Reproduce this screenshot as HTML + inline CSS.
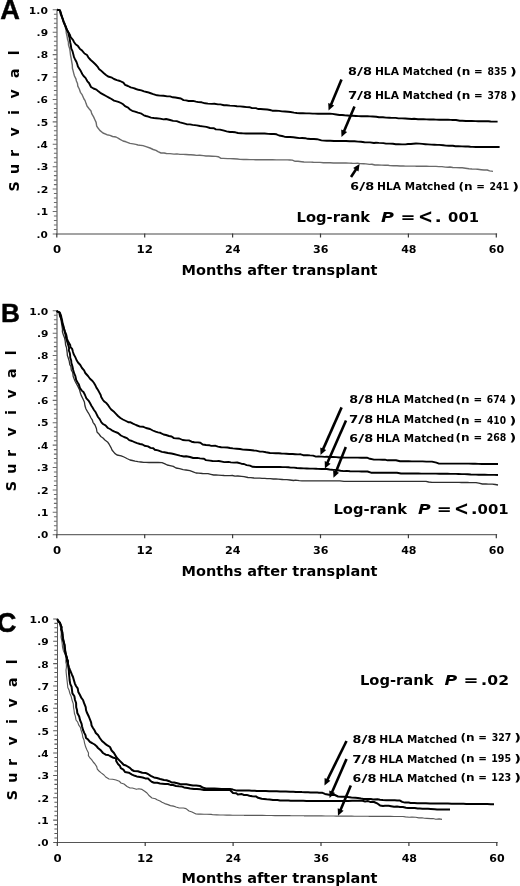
<!DOCTYPE html>
<html lang="en"><head><meta charset="utf-8"><title>Survival after transplant by HLA match</title>
<style>
html,body{margin:0;padding:0;background:#fff;}
body{width:520px;height:886px;overflow:hidden;}
svg{display:block;will-change:transform;}
</style></head><body>
<svg width="520" height="886" viewBox="0 0 520 886">
<rect width="520" height="886" fill="#fff"/>
<g>
<line x1="57.00" y1="9.3" x2="57.00" y2="234.5" stroke="#858585" stroke-width="1.5"/>
<line x1="56.4" y1="233.90" x2="497.1" y2="233.90" stroke="#858585" stroke-width="1.5"/>
<path d="M52.7 233.90H57.0M53.9 229.42H57.0M53.9 224.94H57.0M53.9 220.45H57.0M53.9 215.97H57.0M52.7 211.49H57.0M53.9 207.01H57.0M53.9 202.53H57.0M53.9 198.04H57.0M53.9 193.56H57.0M52.7 189.08H57.0M53.9 184.60H57.0M53.9 180.12H57.0M53.9 175.63H57.0M53.9 171.15H57.0M52.7 166.67H57.0M53.9 162.19H57.0M53.9 157.71H57.0M53.9 153.22H57.0M53.9 148.74H57.0M52.7 144.26H57.0M53.9 139.78H57.0M53.9 135.30H57.0M53.9 130.81H57.0M53.9 126.33H57.0M52.7 121.85H57.0M53.9 117.37H57.0M53.9 112.89H57.0M53.9 108.40H57.0M53.9 103.92H57.0M52.7 99.44H57.0M53.9 94.96H57.0M53.9 90.48H57.0M53.9 85.99H57.0M53.9 81.51H57.0M52.7 77.03H57.0M53.9 72.55H57.0M53.9 68.07H57.0M53.9 63.58H57.0M53.9 59.10H57.0M52.7 54.62H57.0M53.9 50.14H57.0M53.9 45.66H57.0M53.9 41.17H57.0M53.9 36.69H57.0M52.7 32.21H57.0M53.9 27.73H57.0M53.9 23.25H57.0M53.9 18.76H57.0M53.9 14.28H57.0M52.7 9.80H57.0" stroke="#6c6c6c" stroke-width="1.05" fill="none"/>
<path d="M56.80 233.5V237.4M144.70 233.5V237.4M232.60 233.5V237.4M320.50 233.5V237.4M408.40 233.5V237.4M496.30 233.5V237.4" stroke="#3a3a3a" stroke-width="1.2" fill="none"/>
<text font-family="'DejaVu Sans','Liberation Sans',sans-serif" font-weight="bold" font-size="9" fill="#000">
<tspan x="36.63" y="237.6" textLength="11.28" lengthAdjust="spacingAndGlyphs">.0</tspan>
<tspan x="36.60" y="215.2" textLength="11.53" lengthAdjust="spacingAndGlyphs">.1</tspan>
<tspan x="36.58" y="192.8" textLength="11.76" lengthAdjust="spacingAndGlyphs">.2</tspan>
<tspan x="36.59" y="170.4" textLength="11.69" lengthAdjust="spacingAndGlyphs">.3</tspan>
<tspan x="36.63" y="148.0" textLength="11.25" lengthAdjust="spacingAndGlyphs">.4</tspan>
<tspan x="36.60" y="125.6" textLength="11.56" lengthAdjust="spacingAndGlyphs">.5</tspan>
<tspan x="36.62" y="103.1" textLength="11.34" lengthAdjust="spacingAndGlyphs">.6</tspan>
<tspan x="36.59" y="80.7" textLength="11.69" lengthAdjust="spacingAndGlyphs">.7</tspan>
<tspan x="36.61" y="58.3" textLength="11.47" lengthAdjust="spacingAndGlyphs">.8</tspan>
<tspan x="36.61" y="35.9" textLength="11.47" lengthAdjust="spacingAndGlyphs">.9</tspan>
<tspan x="28.89" y="13.5" textLength="19.04" lengthAdjust="spacingAndGlyphs">1.0</tspan>
</text>
<text font-family="'DejaVu Sans','Liberation Sans',sans-serif" font-weight="bold" font-size="10" fill="#000">
<tspan x="53.05" y="252.8" textLength="8.12" lengthAdjust="spacingAndGlyphs">0</tspan>
<tspan x="136.62" y="252.8" textLength="16.45" lengthAdjust="spacingAndGlyphs">12</tspan>
<tspan x="224.96" y="252.8" textLength="15.51" lengthAdjust="spacingAndGlyphs">24</tspan>
<tspan x="313.00" y="252.8" textLength="15.45" lengthAdjust="spacingAndGlyphs">36</tspan>
<tspan x="401.16" y="252.8" textLength="15.30" lengthAdjust="spacingAndGlyphs">48</tspan>
<tspan x="488.86" y="252.8" textLength="15.33" lengthAdjust="spacingAndGlyphs">60</tspan>
</text>
<text font-family="'DejaVu Sans','Liberation Sans',sans-serif" font-weight="bold" font-size="14.4" y="274.7"><tspan x="181.56" textLength="195.99" lengthAdjust="spacingAndGlyphs">Months after transplant</tspan></text>
<text transform="rotate(-90)" x="-191.4 -173.9 -157.1 -136.5 -115.1 -98.6 -78.0 -55.3" y="18.5" font-family="'DejaVu Sans','Liberation Sans',sans-serif" font-weight="bold" font-size="14.2">Survival</text>
<text x="0.3" y="18.7" font-family="'Liberation Sans','DejaVu Sans',sans-serif" font-weight="bold" font-size="27.2" stroke="#000" stroke-width="0.45">A</text>
<polyline points="57.2,9.8 60.0,10.4 60.9,13.0 62.0,17.0 62.9,19.6 63.5,22.8 65.0,26.0 66.0,30.0 66.3,33.1 67.0,36.0 67.6,39.6 68.4,41.9 68.5,45.0 69.7,48.7 70.1,51.4 70.5,55.0 71.2,58.7 71.7,61.7 72.3,65.0 72.4,68.3 73.0,70.4 73.8,73.6 74.5,76.0 76.0,79.1 76.4,81.0 77.5,83.5 77.8,86.2 79.3,89.0 80.4,92.3 81.9,94.3 82.8,96.2 84.0,99.0 85.1,100.6 86.1,103.6 87.0,106.0 89.1,108.7 91.0,111.0 91.7,113.6 93.6,116.9 95.0,120.0 96.1,122.4 96.7,126.1 98.0,128.0 99.8,130.4 103.0,133.0 106.9,134.7 110.0,135.4 112.6,136.5 116.0,137.0 118.5,138.3 120.1,139.4 123.0,141.0 126.0,141.8 130.0,143.4 133.2,143.9 135.8,144.4 138.0,145.0 140.2,145.3 143.0,145.6 146.0,146.6 150.0,148.0 153.2,149.5 156.0,150.4 158.0,151.7 161.0,153.0 164.1,153.0 166.4,153.5 170.0,153.6 174.0,154.1 176.9,153.9 180.0,154.4 183.1,154.4 186.0,154.5 189.1,154.8 190.8,154.7 194.0,155.0 196.6,155.4 199.7,155.2 203.4,155.6 206.0,156.0 208.8,156.0 212.1,156.2 216.0,156.4 218.2,156.7 221.0,158.4 223.4,158.4 227.6,158.6 230.0,158.6 233.4,158.7 237.4,159.0 240.0,159.4 243.4,159.5 246.5,159.5 250.0,159.6 253.4,159.6 255.5,159.7 258.3,159.6 260.8,159.7 264.3,159.7 267.6,159.8 270.0,159.8 272.4,159.8 276.3,159.9 278.6,159.9 282.1,159.9 284.8,159.9 287.4,159.9 290.0,160.0 292.3,160.1 295.2,161.3 298.0,161.2 301.7,161.7 304.0,162.0 307.8,162.1 310.8,162.1 313.3,162.3 316.6,162.4 320.0,162.4 323.4,162.7 326.5,162.8 330.1,162.8 333.5,163.0 336.0,163.0 339.2,163.0 343.0,163.0 346.0,163.0 349.1,163.1 352.2,163.3 355.0,163.4 357.6,163.3 360.0,163.6 363.7,163.7 365.9,163.9 369.5,164.4 371.9,164.3 374.9,165.0 378.0,165.0 381.7,165.1 385.0,165.2 388.1,165.3 389.8,165.6 393.4,165.7 396.9,165.7 400.0,166.0 403.4,166.0 405.4,166.1 408.7,166.1 411.1,166.1 414.7,166.1 416.7,166.2 420.0,166.2 423.7,166.3 426.5,166.3 429.5,166.4 433.5,166.4 436.0,166.4 438.9,166.6 442.0,166.6 445.3,167.1 448.0,167.3 449.9,167.0 452.8,167.5 456.0,167.6 459.9,167.8 462.2,167.8 465.4,168.2 469.0,168.8 472.0,169.0 475.6,169.1 477.7,169.3 481.2,169.7 484.0,170.0 487.2,170.0 489.6,170.9 493.0,171.4" fill="none" stroke="#6a6a6a" stroke-width="1.40" stroke-linejoin="round"/>
<polyline points="57.2,9.8 60.0,10.4 60.6,13.8 62.0,17.0 62.9,19.1 63.6,21.8 65.0,25.0 66.0,27.0 67.0,30.0 68.4,32.7 68.7,35.0 69.5,37.7 70.2,42.2 70.8,45.0 71.3,48.7 72.5,51.2 73.5,55.0 74.0,57.1 75.0,59.2 76.5,62.0 77.3,64.2 77.9,66.5 79.5,69.0 80.8,71.1 82.4,74.2 83.6,76.0 85.5,77.9 87.4,81.3 89.0,83.0 91.0,87.0 93.5,88.5 96.4,89.6 98.0,91.0 100.3,92.8 103.5,94.6 106.0,96.0 108.9,97.6 111.5,99.0 114.0,100.6 118.4,101.8 121.0,103.0 123.1,104.3 125.0,106.1 128.1,107.6 130.0,109.5 132.2,110.8 135.0,111.6 138.0,112.6 140.7,113.3 143.9,115.3 146.0,116.0 148.3,116.7 151.0,117.6 154.0,118.0 156.3,118.2 160.0,118.6 163.5,119.4 166.1,119.0 170.0,120.0 173.2,120.9 176.7,121.1 180.0,122.4 182.9,123.2 186.6,124.2 190.0,124.4 192.6,124.9 196.8,125.4 200.0,126.0 202.6,126.4 206.4,126.9 210.0,128.0 214.0,128.2 215.8,129.4 220.0,129.6 224.1,130.7 226.6,131.4 230.0,132.0 232.1,132.0 235.4,132.3 238.0,133.0 241.2,133.2 243.0,133.4 246.0,133.5 249.7,133.5 253.0,133.5 255.7,133.5 259.4,133.5 262.0,133.5 264.6,133.5 268.3,133.9 271.0,134.0 274.0,134.0 276.5,134.3 279.1,135.5 282.0,136.0 284.5,136.7 287.1,137.0 290.0,137.0 293.3,137.3 296.7,137.7 299.6,138.1 302.0,138.0 305.3,138.2 307.6,138.8 310.8,139.0 314.0,139.0 317.0,139.2 321.4,140.4 324.0,140.6 326.8,140.7 330.2,140.8 334.0,141.0 337.2,141.0 340.6,141.0 342.7,141.0 346.0,141.0 349.7,141.2 352.4,141.2 354.5,141.3 358.0,141.6 360.9,141.8 364.5,142.2 367.0,142.4 370.0,142.4 374.0,143.0 375.9,142.7 378.9,142.9 383.4,143.1 386.0,143.6 389.5,143.6 392.9,143.8 395.8,144.2 398.6,144.2 402.0,144.4 405.4,144.4 408.1,144.0 410.9,144.0 413.2,143.8 416.0,143.5 419.3,143.6 422.3,143.9 425.4,144.2 428.0,144.4 431.5,144.6 434.4,144.7 437.2,144.9 439.3,144.9 443.3,145.3 446.0,145.6 448.9,145.8 452.9,145.8 455.4,146.2 458.3,146.1 462.0,146.4 465.4,146.5 468.1,146.5 470.4,146.8 472.6,146.9 476.0,147.0 479.0,147.0 482.1,147.0 485.5,147.0 488.5,147.0 490.2,147.0 493.2,147.0 496.6,147.0 499.6,147.0" fill="none" stroke="#000" stroke-width="1.90" stroke-linejoin="round"/>
<polyline points="57.2,9.8 60.0,10.4 60.9,13.1 62.0,17.0 62.9,20.1 64.2,22.6 65.0,25.0 66.1,27.9 67.0,30.0 68.2,32.0 70.0,35.0 70.6,37.0 73.1,40.1 74.0,42.0 75.6,44.3 78.0,46.1 80.0,49.0 82.1,50.6 84.5,53.5 87.0,55.0 88.3,57.3 90.7,60.0 93.0,62.0 95.6,64.5 97.5,66.6 99.0,69.0 100.8,70.4 103.9,73.3 106.0,75.0 108.1,76.5 112.0,77.7 114.0,79.0 116.9,80.1 120.0,81.0 123.4,82.7 125.1,84.8 128.0,86.0 130.7,87.3 133.7,88.1 136.0,89.0 138.4,89.8 141.4,90.4 144.0,91.4 147.6,92.2 150.0,93.0 153.2,94.1 157.1,95.3 160.0,95.6 163.6,95.7 167.2,96.4 170.0,96.4 172.9,97.3 175.4,97.5 178.0,98.0 180.9,98.5 183.5,100.1 186.0,100.4 188.7,101.0 193.1,100.9 196.0,101.6 198.3,102.1 201.6,102.3 205.2,103.3 208.0,103.6 211.7,103.9 214.4,103.8 218.0,104.4 220.4,104.4 224.0,105.2 226.6,105.2 230.0,105.6 234.1,105.9 237.0,106.2 240.0,106.4 243.6,106.7 246.7,107.1 250.0,107.3 252.1,108.1 255.9,108.1 258.0,109.0 260.6,109.0 263.4,109.2 267.2,109.5 270.0,110.0 272.3,110.7 275.8,110.7 279.0,110.9 282.0,111.4 285.0,111.5 288.1,111.8 290.5,112.0 294.0,112.6 296.9,113.0 300.1,113.3 302.9,113.1 306.0,113.4 309.3,113.4 312.7,113.6 314.7,113.6 318.0,113.8 320.7,113.8 324.7,113.8 326.6,113.8 330.0,113.8 332.4,113.9 336.2,114.5 339.5,115.0 342.0,115.0 344.6,115.3 347.5,115.5 349.9,115.8 352.5,115.8 356.0,116.0 358.6,116.1 361.1,116.2 363.7,116.3 367.5,116.3 370.0,116.4 372.7,116.5 376.3,116.7 379.0,117.3 382.9,117.2 386.0,117.6 389.4,117.8 391.8,117.9 395.7,117.9 398.5,118.4 402.0,118.4 405.3,118.5 408.2,118.7 411.9,119.0 414.1,118.8 418.0,119.2 420.9,119.2 423.5,119.3 426.4,119.4 429.4,119.5 433.7,119.5 436.0,119.6 439.2,119.7 441.2,119.8 444.9,119.8 448.0,119.8 450.8,119.9 452.6,120.0 456.0,120.0 459.8,120.7 462.3,120.8 466.0,121.0 469.6,121.0 471.7,121.0 475.6,121.1 478.2,121.2 482.0,121.2 484.4,121.3 488.3,121.3 490.7,121.5 495.0,121.6 497.6,121.6" fill="none" stroke="#000" stroke-width="1.90" stroke-linejoin="round"/>
<line x1="341.5" y1="79.5" x2="330.8" y2="105.2" stroke="#000" stroke-width="2.6"/><polygon points="328.6,110.6 328.2,103.1 334.2,105.5" fill="#000"/>
<line x1="354.5" y1="106.5" x2="343.8" y2="131.7" stroke="#000" stroke-width="2.6"/><polygon points="341.5,137.0 341.2,129.5 347.1,132.0" fill="#000"/>
<line x1="351.0" y1="177.0" x2="356.4" y2="168.8" stroke="#000" stroke-width="2.6"/><polygon points="359.6,164.0 358.5,171.4 353.2,167.9" fill="#000"/>
<text font-family="'DejaVu Sans','Liberation Sans',sans-serif" font-weight="bold" font-size="9.8"><tspan x="348.03" y="75.4" textLength="8.87" lengthAdjust="spacingAndGlyphs">8</tspan><tspan x="357.10" y="75.4" textLength="6.00" lengthAdjust="spacingAndGlyphs">/</tspan><tspan x="363.02" y="75.4" textLength="8.99" lengthAdjust="spacingAndGlyphs">8</tspan> <tspan x="374.91" y="75.4" textLength="24.05" lengthAdjust="spacingAndGlyphs">HLA</tspan> <tspan x="402.64" y="75.4" textLength="50.23" lengthAdjust="spacingAndGlyphs">Matched</tspan> <tspan x="456.27" y="75.4" textLength="14.15" lengthAdjust="spacingAndGlyphs">(n</tspan> <tspan x="474.11" y="75.4" textLength="8.68" lengthAdjust="spacingAndGlyphs">=</tspan> <tspan x="487.54" y="75.4" textLength="19.41" lengthAdjust="spacingAndGlyphs">835</tspan><tspan x="510.11" y="75.4" textLength="6.78" lengthAdjust="spacingAndGlyphs">)</tspan></text>
<text font-family="'DejaVu Sans','Liberation Sans',sans-serif" font-weight="bold" font-size="9.8"><tspan x="347.90" y="99.1" textLength="9.28" lengthAdjust="spacingAndGlyphs">7</tspan><tspan x="357.10" y="99.1" textLength="6.00" lengthAdjust="spacingAndGlyphs">/</tspan><tspan x="363.02" y="99.1" textLength="8.99" lengthAdjust="spacingAndGlyphs">8</tspan> <tspan x="374.91" y="99.1" textLength="24.05" lengthAdjust="spacingAndGlyphs">HLA</tspan> <tspan x="402.64" y="99.1" textLength="50.23" lengthAdjust="spacingAndGlyphs">Matched</tspan> <tspan x="456.27" y="99.1" textLength="14.15" lengthAdjust="spacingAndGlyphs">(n</tspan> <tspan x="474.11" y="99.1" textLength="8.68" lengthAdjust="spacingAndGlyphs">=</tspan> <tspan x="487.47" y="99.1" textLength="19.41" lengthAdjust="spacingAndGlyphs">378</tspan><tspan x="510.11" y="99.1" textLength="6.78" lengthAdjust="spacingAndGlyphs">)</tspan></text>
<text font-family="'DejaVu Sans','Liberation Sans',sans-serif" font-weight="bold" font-size="9.8"><tspan x="350.21" y="190.2" textLength="8.76" lengthAdjust="spacingAndGlyphs">6</tspan><tspan x="359.30" y="190.2" textLength="6.00" lengthAdjust="spacingAndGlyphs">/</tspan><tspan x="365.22" y="190.2" textLength="8.99" lengthAdjust="spacingAndGlyphs">8</tspan> <tspan x="377.11" y="190.2" textLength="24.05" lengthAdjust="spacingAndGlyphs">HLA</tspan> <tspan x="404.84" y="190.2" textLength="50.23" lengthAdjust="spacingAndGlyphs">Matched</tspan> <tspan x="458.47" y="189.7" textLength="14.15" lengthAdjust="spacingAndGlyphs">(n</tspan> <tspan x="476.31" y="189.7" textLength="8.68" lengthAdjust="spacingAndGlyphs">=</tspan> <tspan x="489.55" y="189.7" textLength="19.58" lengthAdjust="spacingAndGlyphs">241</tspan><tspan x="512.31" y="189.7" textLength="6.78" lengthAdjust="spacingAndGlyphs">)</tspan></text>
<text font-family="'DejaVu Sans','Liberation Sans',sans-serif" font-weight="bold" font-size="14.2"><tspan x="296.64" y="221.7" textLength="73.50" lengthAdjust="spacingAndGlyphs">Log-rank</tspan> <tspan x="381.00" y="221.7" font-style="italic" textLength="12.92" lengthAdjust="spacingAndGlyphs">P</tspan> <tspan x="400.63" y="221.7" textLength="14.96" lengthAdjust="spacingAndGlyphs">=</tspan> <tspan x="417.91" y="223.1" font-size="19.8" textLength="15.09" lengthAdjust="spacingAndGlyphs">&lt;</tspan><tspan x="434.61" y="221.7" textLength="7.38" lengthAdjust="spacingAndGlyphs">.</tspan> <tspan x="448.10" y="221.7" textLength="30.90" lengthAdjust="spacingAndGlyphs">001</tspan></text>
</g>
<g>
<line x1="57.00" y1="310.3" x2="57.00" y2="535.3" stroke="#858585" stroke-width="1.5"/>
<line x1="56.4" y1="534.70" x2="497.1" y2="534.70" stroke="#6a6a6a" stroke-width="1.2"/>
<path d="M52.7 534.70H57.0M53.9 530.22H57.0M53.9 525.74H57.0M53.9 521.27H57.0M53.9 516.79H57.0M52.7 512.31H57.0M53.9 507.83H57.0M53.9 503.35H57.0M53.9 498.88H57.0M53.9 494.40H57.0M52.7 489.92H57.0M53.9 485.44H57.0M53.9 480.96H57.0M53.9 476.49H57.0M53.9 472.01H57.0M52.7 467.53H57.0M53.9 463.05H57.0M53.9 458.57H57.0M53.9 454.10H57.0M53.9 449.62H57.0M52.7 445.14H57.0M53.9 440.66H57.0M53.9 436.18H57.0M53.9 431.71H57.0M53.9 427.23H57.0M52.7 422.75H57.0M53.9 418.27H57.0M53.9 413.79H57.0M53.9 409.32H57.0M53.9 404.84H57.0M52.7 400.36H57.0M53.9 395.88H57.0M53.9 391.40H57.0M53.9 386.93H57.0M53.9 382.45H57.0M52.7 377.97H57.0M53.9 373.49H57.0M53.9 369.01H57.0M53.9 364.54H57.0M53.9 360.06H57.0M52.7 355.58H57.0M53.9 351.10H57.0M53.9 346.62H57.0M53.9 342.15H57.0M53.9 337.67H57.0M52.7 333.19H57.0M53.9 328.71H57.0M53.9 324.23H57.0M53.9 319.76H57.0M53.9 315.28H57.0M52.7 310.80H57.0" stroke="#6c6c6c" stroke-width="1.05" fill="none"/>
<path d="M56.80 534.3V538.2M144.70 534.3V538.2M232.60 534.3V538.2M320.50 534.3V538.2M408.40 534.3V538.2M496.30 534.3V538.2" stroke="#3a3a3a" stroke-width="1.2" fill="none"/>
<text font-family="'DejaVu Sans','Liberation Sans',sans-serif" font-weight="bold" font-size="9" fill="#000">
<tspan x="36.93" y="538.4" textLength="11.28" lengthAdjust="spacingAndGlyphs">.0</tspan>
<tspan x="36.90" y="516.0" textLength="11.53" lengthAdjust="spacingAndGlyphs">.1</tspan>
<tspan x="36.88" y="493.6" textLength="11.76" lengthAdjust="spacingAndGlyphs">.2</tspan>
<tspan x="36.89" y="471.2" textLength="11.69" lengthAdjust="spacingAndGlyphs">.3</tspan>
<tspan x="36.93" y="448.8" textLength="11.25" lengthAdjust="spacingAndGlyphs">.4</tspan>
<tspan x="36.90" y="426.4" textLength="11.56" lengthAdjust="spacingAndGlyphs">.5</tspan>
<tspan x="36.92" y="404.1" textLength="11.34" lengthAdjust="spacingAndGlyphs">.6</tspan>
<tspan x="36.89" y="381.7" textLength="11.69" lengthAdjust="spacingAndGlyphs">.7</tspan>
<tspan x="36.91" y="359.3" textLength="11.47" lengthAdjust="spacingAndGlyphs">.8</tspan>
<tspan x="36.91" y="336.9" textLength="11.47" lengthAdjust="spacingAndGlyphs">.9</tspan>
<tspan x="29.19" y="314.5" textLength="19.04" lengthAdjust="spacingAndGlyphs">1.0</tspan>
</text>
<text font-family="'DejaVu Sans','Liberation Sans',sans-serif" font-weight="bold" font-size="10" fill="#000">
<tspan x="53.05" y="554.4" textLength="8.12" lengthAdjust="spacingAndGlyphs">0</tspan>
<tspan x="136.62" y="554.4" textLength="16.45" lengthAdjust="spacingAndGlyphs">12</tspan>
<tspan x="224.96" y="554.4" textLength="15.51" lengthAdjust="spacingAndGlyphs">24</tspan>
<tspan x="313.00" y="554.4" textLength="15.45" lengthAdjust="spacingAndGlyphs">36</tspan>
<tspan x="401.16" y="554.4" textLength="15.30" lengthAdjust="spacingAndGlyphs">48</tspan>
<tspan x="488.86" y="554.4" textLength="15.33" lengthAdjust="spacingAndGlyphs">60</tspan>
</text>
<text font-family="'DejaVu Sans','Liberation Sans',sans-serif" font-weight="bold" font-size="14.4" y="575.5"><tspan x="181.56" textLength="195.99" lengthAdjust="spacingAndGlyphs">Months after transplant</tspan></text>
<text transform="rotate(-90)" x="-491.3 -473.8 -457.0 -436.4 -415.0 -398.5 -377.9 -355.2" y="16.4" font-family="'DejaVu Sans','Liberation Sans',sans-serif" font-weight="bold" font-size="14.2">Survival</text>
<text x="0.9" y="321.7" font-family="'Liberation Sans','DejaVu Sans',sans-serif" font-weight="bold" font-size="26.2" stroke="#000" stroke-width="0.45">B</text>
<polyline points="56.6,311.2 59.3,312.5 59.5,314.7 60.6,318.0 61.4,322.3 61.8,325.0 62.5,329.1 62.4,331.9 63.4,335.0 64.5,337.7 65.2,341.0 65.6,345.0 66.5,347.5 66.8,349.8 67.2,353.0 67.4,355.6 68.2,357.7 69.2,361.0 69.8,364.7 70.9,366.4 71.3,370.0 72.7,372.5 73.2,376.5 74.2,379.1 75.2,381.5 77.1,385.0 77.9,386.4 79.6,390.0 80.4,393.0 81.2,395.4 83.0,399.0 84.4,402.1 85.0,406.0 86.0,409.0 87.5,411.6 89.0,414.0 91.0,418.0 92.4,420.2 93.0,422.3 95.0,425.0 96.4,428.5 97.0,432.0 98.7,433.7 100.8,436.5 103.0,438.0 104.9,440.0 107.5,441.9 109.0,444.0 111.0,447.6 112.0,450.0 114.8,453.4 117.0,455.0 121.2,455.8 124.0,457.0 126.9,458.5 130.0,460.0 132.4,460.5 135.1,461.1 138.0,461.6 140.9,462.0 143.7,462.4 146.0,462.4 149.0,462.5 152.8,462.4 155.9,462.5 158.2,462.5 162.0,462.6 165.0,463.9 167.2,465.0 170.0,465.6 173.3,466.4 176.0,468.0 179.6,468.7 183.1,469.6 186.0,470.0 189.9,470.7 193.1,471.8 196.0,473.0 198.5,473.2 202.5,473.5 204.8,473.6 208.0,473.6 210.8,474.3 213.7,475.0 216.0,475.0 218.2,475.1 221.7,475.3 224.2,475.5 226.8,475.6 230.0,475.6 232.4,475.5 235.0,476.2 237.8,476.0 241.5,476.3 244.0,476.6 248.0,477.5 250.6,477.7 254.0,478.0 257.1,478.2 259.9,478.2 262.0,478.4 264.9,478.4 266.9,478.7 270.2,478.6 273.3,479.0 276.0,479.0 278.2,479.1 282.1,479.5 283.8,479.7 286.8,479.7 290.0,480.0 293.7,480.5 295.4,480.1 299.3,480.6 302.0,480.8 304.5,480.8 308.5,480.8 310.9,480.8 313.5,480.8 316.8,480.8 319.7,480.8 321.7,480.8 325.2,480.8 328.4,480.8 331.7,480.8 334.7,480.8 336.7,480.8 340.0,480.8 344.0,481.4 347.2,481.4 350.2,481.4 353.4,481.4 356.8,481.4 359.2,481.4 361.8,481.4 365.2,481.4 368.5,481.4 370.6,481.4 374.9,481.4 377.9,481.4 380.7,481.4 383.8,481.4 386.6,481.4 389.9,481.4 393.2,481.4 395.0,481.4 398.5,481.4 401.8,481.4 404.1,481.4 408.3,481.4 411.2,481.4 413.3,481.4 416.9,481.4 420.3,481.4 422.6,481.4 426.0,481.4 428.7,482.0 432.0,482.4 435.3,482.4 437.4,482.4 441.7,482.4 443.7,482.4 447.1,482.4 449.6,482.4 452.3,482.4 456.0,482.4 459.3,482.4 461.3,482.5 464.9,482.5 467.6,482.5 469.6,482.6 472.6,482.6 476.0,482.6 478.8,483.2 482.4,484.0 486.0,484.0 488.3,484.2 492.3,484.2 495.2,484.5 498.0,485.0" fill="none" stroke="#2e2e2e" stroke-width="1.30" stroke-linejoin="round"/>
<polyline points="56.6,311.2 59.5,312.5 59.9,315.7 61.0,318.0 62.2,320.6 62.7,325.0 64.1,329.1 64.5,331.2 65.6,335.0 66.2,338.5 67.3,341.9 68.2,345.0 69.1,348.0 68.8,350.4 69.8,353.0 70.2,355.8 70.2,357.6 71.2,360.5 71.4,363.0 72.4,366.3 73.2,370.0 74.3,373.7 75.3,375.8 76.2,380.0 77.6,382.5 78.9,384.6 80.0,388.0 81.8,390.6 83.7,392.3 85.0,395.0 86.4,398.3 88.5,400.6 90.0,403.0 91.4,405.7 92.4,407.3 94.0,410.0 95.7,412.3 96.7,414.3 98.0,417.0 99.7,419.1 101.4,422.4 103.0,424.0 105.5,425.4 107.9,428.0 110.0,429.0 111.9,430.3 114.5,431.7 118.0,433.0 120.9,435.5 124.0,437.0 127.0,438.1 129.2,440.1 132.0,441.0 134.5,442.1 137.1,443.1 140.0,444.0 142.5,444.5 144.5,445.8 148.0,446.4 150.5,447.9 153.3,448.3 154.8,449.7 158.0,450.4 161.9,451.9 164.4,452.2 168.0,453.0 171.4,453.5 173.7,454.0 177.0,454.8 180.0,455.6 183.9,456.5 186.1,456.2 190.0,457.0 193.2,458.0 197.2,457.9 200.0,458.4 204.0,458.8 205.9,460.1 210.0,460.6 212.5,461.0 216.6,461.1 218.8,461.0 222.0,461.6 224.3,462.1 228.6,461.9 230.8,462.4 234.0,462.6 237.2,462.5 241.4,463.7 244.0,464.0 246.6,465.1 250.0,465.6 252.6,466.8 256.0,467.0 259.3,467.0 261.8,467.0 265.4,467.0 268.1,467.0 271.7,467.0 273.9,467.0 277.4,467.0 280.0,467.0 282.5,467.1 285.2,467.1 288.4,467.3 290.7,467.6 294.0,467.6 296.9,468.0 300.7,468.2 303.9,468.4 306.8,468.5 310.0,468.6 313.0,468.6 316.2,468.8 317.8,468.9 321.4,469.0 324.0,469.0 326.8,469.0 329.6,469.5 332.5,469.8 334.6,469.9 338.0,470.3 340.6,470.8 343.7,471.1 346.8,470.9 350.0,471.3 352.2,471.4 355.2,471.4 359.0,471.4 361.4,471.5 365.0,471.5 367.5,471.5 371.0,472.7 374.4,472.7 377.2,472.7 379.8,472.7 383.2,472.7 385.8,472.8 388.4,472.8 391.8,472.8 394.3,472.8 397.0,472.8 401.0,473.5 404.6,473.5 406.9,473.5 409.7,473.5 412.2,473.5 415.3,473.5 418.5,473.5 421.3,473.6 424.3,473.6 427.8,473.6 430.6,473.6 433.3,473.6 436.0,473.6 439.2,473.7 441.6,473.7 445.3,473.8 447.6,473.8 450.3,473.9 453.3,473.9 456.0,473.9 458.4,474.0 461.9,474.1 464.5,474.1 467.6,474.3 470.8,474.5 473.5,474.6 476.0,474.6 478.6,474.7 482.9,474.7 484.8,474.7 488.1,474.9 491.4,474.9 494.1,474.9 498.0,475.0" fill="none" stroke="#000" stroke-width="1.90" stroke-linejoin="round"/>
<polyline points="56.6,311.2 59.7,312.5 61.0,315.3 61.5,318.0 62.1,322.4 63.2,325.0 64.0,328.5 65.2,332.0 66.3,334.9 67.1,339.0 68.3,341.8 70.2,345.0 70.5,347.2 72.2,349.0 73.0,352.0 73.7,354.2 75.3,357.1 76.5,360.0 78.0,362.5 80.3,365.0 82.0,368.0 84.1,370.4 85.3,373.0 88.0,376.0 90.0,378.7 92.5,381.0 94.0,383.0 95.3,385.2 96.4,387.6 98.0,390.0 99.0,391.9 100.7,395.0 101.2,397.0 103.0,400.0 104.3,401.6 106.6,403.3 108.3,405.4 110.0,408.0 111.5,409.8 114.3,412.1 116.2,414.1 118.0,416.0 120.4,418.0 122.9,419.5 126.0,421.0 128.7,422.3 130.6,422.3 133.0,423.6 136.0,425.0 140.0,426.6 143.4,426.8 146.0,428.0 150.0,429.0 152.8,430.5 155.6,431.7 158.0,432.4 160.3,432.8 163.6,434.5 166.0,435.0 169.0,436.0 171.6,436.5 173.9,438.1 176.0,438.4 179.2,438.5 182.7,440.0 186.0,440.4 188.9,440.4 191.6,441.7 194.3,442.3 198.0,442.4 200.4,442.8 202.7,444.5 206.0,445.0 209.6,445.3 211.4,445.9 215.6,445.8 218.0,446.6 221.2,447.3 223.9,447.4 227.5,447.5 230.0,448.0 232.9,448.4 236.8,448.7 240.0,449.0 243.0,449.6 246.3,449.8 250.0,450.0 254.0,450.5 256.0,450.6 260.0,451.6 262.7,451.6 266.1,452.3 270.0,453.0 272.6,453.1 275.8,453.3 278.7,453.3 281.4,453.5 284.0,453.6 286.3,453.8 289.3,454.0 292.7,454.0 295.1,454.2 298.0,454.4 300.7,454.3 303.3,455.2 307.4,455.1 310.0,455.4 313.1,455.6 315.9,456.6 318.5,456.5 321.8,456.6 324.9,456.9 326.5,456.8 330.0,457.0 332.9,457.0 336.2,457.1 339.4,457.5 341.3,457.5 345.0,457.6 347.8,457.6 351.6,457.6 354.9,457.6 357.9,457.6 361.0,457.7 363.5,457.7 367.0,457.7 369.9,458.8 374.0,459.6 376.2,459.6 379.1,459.6 382.6,459.7 385.0,459.7 387.5,460.3 390.6,460.3 393.1,460.3 396.0,460.3 400.0,461.2 402.5,461.2 406.1,461.3 408.7,461.3 411.8,461.4 414.3,461.4 418.0,461.4 420.3,461.4 422.7,461.4 426.3,461.6 429.8,461.6 432.0,461.6 436.4,462.7 439.0,463.6 441.5,463.6 444.7,463.6 448.7,463.6 450.6,463.6 453.8,463.6 456.5,463.6 460.6,463.6 463.7,463.6 466.0,463.6 468.5,463.6 473.0,463.8 475.1,463.8 478.3,463.9 482.0,464.0 485.9,464.0 488.8,464.0 491.1,464.0 494.4,464.0 498.0,464.0" fill="none" stroke="#000" stroke-width="1.90" stroke-linejoin="round"/>
<line x1="341.6" y1="407.4" x2="322.9" y2="449.6" stroke="#000" stroke-width="2.6"/><polygon points="320.5,454.9 320.3,447.4 326.2,450.0" fill="#000"/>
<line x1="346.0" y1="420.5" x2="327.2" y2="463.3" stroke="#000" stroke-width="2.6"/><polygon points="324.9,468.6 324.7,461.1 330.6,463.7" fill="#000"/>
<line x1="345.8" y1="447.1" x2="335.7" y2="472.4" stroke="#000" stroke-width="2.6"/><polygon points="333.5,477.8 333.1,470.3 339.0,472.7" fill="#000"/>
<text font-family="'DejaVu Sans','Liberation Sans',sans-serif" font-weight="bold" font-size="9.8"><tspan x="349.23" y="403.0" textLength="8.87" lengthAdjust="spacingAndGlyphs">8</tspan><tspan x="358.30" y="403.0" textLength="6.00" lengthAdjust="spacingAndGlyphs">/</tspan><tspan x="364.22" y="403.0" textLength="8.99" lengthAdjust="spacingAndGlyphs">8</tspan> <tspan x="376.11" y="403.0" textLength="24.05" lengthAdjust="spacingAndGlyphs">HLA</tspan> <tspan x="403.84" y="403.0" textLength="50.23" lengthAdjust="spacingAndGlyphs">Matched</tspan> <tspan x="455.57" y="403.0" textLength="14.15" lengthAdjust="spacingAndGlyphs">(n</tspan> <tspan x="473.41" y="403.0" textLength="8.68" lengthAdjust="spacingAndGlyphs">=</tspan> <tspan x="486.83" y="403.0" textLength="19.19" lengthAdjust="spacingAndGlyphs">674</tspan><tspan x="509.41" y="403.0" textLength="6.78" lengthAdjust="spacingAndGlyphs">)</tspan></text>
<text font-family="'DejaVu Sans','Liberation Sans',sans-serif" font-weight="bold" font-size="9.8"><tspan x="349.10" y="422.8" textLength="9.28" lengthAdjust="spacingAndGlyphs">7</tspan><tspan x="358.30" y="422.8" textLength="6.00" lengthAdjust="spacingAndGlyphs">/</tspan><tspan x="364.22" y="422.8" textLength="8.99" lengthAdjust="spacingAndGlyphs">8</tspan> <tspan x="376.11" y="422.8" textLength="24.05" lengthAdjust="spacingAndGlyphs">HLA</tspan> <tspan x="403.84" y="422.8" textLength="50.23" lengthAdjust="spacingAndGlyphs">Matched</tspan> <tspan x="455.57" y="424.0" textLength="14.15" lengthAdjust="spacingAndGlyphs">(n</tspan> <tspan x="473.41" y="424.0" textLength="8.68" lengthAdjust="spacingAndGlyphs">=</tspan> <tspan x="486.99" y="424.0" textLength="19.04" lengthAdjust="spacingAndGlyphs">410</tspan><tspan x="509.41" y="424.0" textLength="6.78" lengthAdjust="spacingAndGlyphs">)</tspan></text>
<text font-family="'DejaVu Sans','Liberation Sans',sans-serif" font-weight="bold" font-size="9.8"><tspan x="349.21" y="441.7" textLength="8.76" lengthAdjust="spacingAndGlyphs">6</tspan><tspan x="358.30" y="441.7" textLength="6.00" lengthAdjust="spacingAndGlyphs">/</tspan><tspan x="364.22" y="441.7" textLength="8.99" lengthAdjust="spacingAndGlyphs">8</tspan> <tspan x="376.11" y="441.7" textLength="24.05" lengthAdjust="spacingAndGlyphs">HLA</tspan> <tspan x="403.84" y="441.7" textLength="50.23" lengthAdjust="spacingAndGlyphs">Matched</tspan> <tspan x="455.57" y="440.8" textLength="14.15" lengthAdjust="spacingAndGlyphs">(n</tspan> <tspan x="473.41" y="440.8" textLength="8.68" lengthAdjust="spacingAndGlyphs">=</tspan> <tspan x="486.65" y="440.8" textLength="19.53" lengthAdjust="spacingAndGlyphs">268</tspan><tspan x="509.41" y="440.8" textLength="6.78" lengthAdjust="spacingAndGlyphs">)</tspan></text>
<text font-family="'DejaVu Sans','Liberation Sans',sans-serif" font-weight="bold" font-size="14.2"><tspan x="333.44" y="513.7" textLength="73.60" lengthAdjust="spacingAndGlyphs">Log-rank</tspan> <tspan x="418.11" y="513.7" font-style="italic" textLength="12.71" lengthAdjust="spacingAndGlyphs">P</tspan> <tspan x="436.73" y="513.7" textLength="14.96" lengthAdjust="spacingAndGlyphs">=</tspan> <tspan x="454.03" y="515.1" font-size="19.8" textLength="14.96" lengthAdjust="spacingAndGlyphs">&lt;</tspan><tspan x="470.73" y="513.7" textLength="6.95" lengthAdjust="spacingAndGlyphs">.</tspan><tspan x="477.59" y="513.7" textLength="31.11" lengthAdjust="spacingAndGlyphs">001</tspan></text>
</g>
<g>
<line x1="57.50" y1="618.4" x2="57.50" y2="843.1" stroke="#555" stroke-width="1.0"/>
<line x1="56.9" y1="842.50" x2="497.6" y2="842.50" stroke="#555" stroke-width="1.0"/>
<path d="M53.2 842.50H57.5M54.4 838.03H57.5M54.4 833.56H57.5M54.4 829.08H57.5M54.4 824.61H57.5M53.2 820.14H57.5M54.4 815.67H57.5M54.4 811.20H57.5M54.4 806.72H57.5M54.4 802.25H57.5M53.2 797.78H57.5M54.4 793.31H57.5M54.4 788.84H57.5M54.4 784.36H57.5M54.4 779.89H57.5M53.2 775.42H57.5M54.4 770.95H57.5M54.4 766.48H57.5M54.4 762.00H57.5M54.4 757.53H57.5M53.2 753.06H57.5M54.4 748.59H57.5M54.4 744.12H57.5M54.4 739.64H57.5M54.4 735.17H57.5M53.2 730.70H57.5M54.4 726.23H57.5M54.4 721.76H57.5M54.4 717.28H57.5M54.4 712.81H57.5M53.2 708.34H57.5M54.4 703.87H57.5M54.4 699.40H57.5M54.4 694.92H57.5M54.4 690.45H57.5M53.2 685.98H57.5M54.4 681.51H57.5M54.4 677.04H57.5M54.4 672.56H57.5M54.4 668.09H57.5M53.2 663.62H57.5M54.4 659.15H57.5M54.4 654.68H57.5M54.4 650.20H57.5M54.4 645.73H57.5M53.2 641.26H57.5M54.4 636.79H57.5M54.4 632.32H57.5M54.4 627.84H57.5M54.4 623.37H57.5M53.2 618.90H57.5" stroke="#5a5a5a" stroke-width="1.05" fill="none"/>
<path d="M57.30 842.1V846.0M145.20 842.1V846.0M233.10 842.1V846.0M321.00 842.1V846.0M408.90 842.1V846.0M496.80 842.1V846.0" stroke="#3a3a3a" stroke-width="1.2" fill="none"/>
<text font-family="'DejaVu Sans','Liberation Sans',sans-serif" font-weight="bold" font-size="9" fill="#000">
<tspan x="37.33" y="846.4" textLength="11.28" lengthAdjust="spacingAndGlyphs">.0</tspan>
<tspan x="37.30" y="824.0" textLength="11.53" lengthAdjust="spacingAndGlyphs">.1</tspan>
<tspan x="37.28" y="801.7" textLength="11.76" lengthAdjust="spacingAndGlyphs">.2</tspan>
<tspan x="37.29" y="779.3" textLength="11.69" lengthAdjust="spacingAndGlyphs">.3</tspan>
<tspan x="37.33" y="757.0" textLength="11.25" lengthAdjust="spacingAndGlyphs">.4</tspan>
<tspan x="37.30" y="734.6" textLength="11.56" lengthAdjust="spacingAndGlyphs">.5</tspan>
<tspan x="37.32" y="712.2" textLength="11.34" lengthAdjust="spacingAndGlyphs">.6</tspan>
<tspan x="37.29" y="689.9" textLength="11.69" lengthAdjust="spacingAndGlyphs">.7</tspan>
<tspan x="37.31" y="667.5" textLength="11.47" lengthAdjust="spacingAndGlyphs">.8</tspan>
<tspan x="37.31" y="645.2" textLength="11.47" lengthAdjust="spacingAndGlyphs">.9</tspan>
<tspan x="29.59" y="622.8" textLength="19.04" lengthAdjust="spacingAndGlyphs">1.0</tspan>
</text>
<text font-family="'DejaVu Sans','Liberation Sans',sans-serif" font-weight="bold" font-size="10" fill="#000">
<tspan x="53.55" y="861.5" textLength="8.12" lengthAdjust="spacingAndGlyphs">0</tspan>
<tspan x="137.12" y="861.5" textLength="16.45" lengthAdjust="spacingAndGlyphs">12</tspan>
<tspan x="225.46" y="861.5" textLength="15.51" lengthAdjust="spacingAndGlyphs">24</tspan>
<tspan x="313.50" y="861.5" textLength="15.45" lengthAdjust="spacingAndGlyphs">36</tspan>
<tspan x="401.66" y="861.5" textLength="15.30" lengthAdjust="spacingAndGlyphs">48</tspan>
<tspan x="489.36" y="861.5" textLength="15.33" lengthAdjust="spacingAndGlyphs">60</tspan>
</text>
<text font-family="'DejaVu Sans','Liberation Sans',sans-serif" font-weight="bold" font-size="14.4" y="882.5"><tspan x="181.56" textLength="195.99" lengthAdjust="spacingAndGlyphs">Months after transplant</tspan></text>
<text transform="rotate(-90)" x="-800.3 -782.8 -766.0 -745.4 -724.0 -707.5 -686.9 -664.2" y="16.7" font-family="'DejaVu Sans','Liberation Sans',sans-serif" font-weight="bold" font-size="14.2">Survival</text>
<text x="-3.3" y="632.0" font-family="'Liberation Sans','DejaVu Sans',sans-serif" font-weight="bold" font-size="27.2" stroke="#000" stroke-width="0.45">C</text>
<polyline points="57.2,619.2 58.3,621.7 60.0,623.0 60.0,625.9 61.0,628.0 60.9,630.4 61.3,633.9 61.0,637.0 61.8,640.9 62.3,644.4 62.5,647.0 63.4,650.7 65.0,654.0 65.9,657.0 66.1,659.6 65.8,662.0 66.4,664.4 66.4,667.5 66.0,670.0 66.2,672.8 66.6,676.5 67.0,680.0 67.4,683.4 67.8,687.5 69.0,690.0 69.9,693.5 71.3,696.8 72.0,700.0 73.3,703.7 73.5,707.4 74.0,710.0 74.5,713.8 75.3,715.9 76.0,720.0 77.7,722.1 78.8,725.2 80.4,727.4 81.0,730.0 82.3,734.0 82.8,737.3 84.0,740.0 84.5,742.8 85.7,747.1 87.0,750.0 88.5,752.9 88.4,755.7 90.0,758.0 91.6,759.6 93.2,762.0 95.0,764.0 96.7,766.6 97.3,769.1 99.0,771.0 100.9,772.6 104.0,775.0 105.7,777.0 109.0,779.0 112.7,779.2 116.0,780.0 119.3,781.2 120.9,783.0 124.0,784.0 127.0,786.5 130.0,788.0 132.4,788.0 136.4,789.3 138.8,788.8 142.0,789.4 144.7,791.2 147.0,793.0 149.3,795.8 152.0,798.0 155.4,798.7 157.0,799.8 160.0,801.0 162.0,802.3 164.8,803.6 168.0,804.6 170.4,805.6 173.5,806.1 176.0,807.0 179.2,808.0 183.4,808.0 186.0,808.6 189.0,811.0 192.0,812.0 196.0,814.0 198.3,814.1 200.7,814.1 204.0,814.2 206.8,814.3 211.2,814.4 212.8,814.7 216.8,814.9 220.0,815.0 223.1,815.0 226.6,815.1 229.9,815.1 232.8,815.2 234.8,815.2 238.5,815.2 241.3,815.2 244.1,815.3 247.2,815.3 250.7,815.3 253.8,815.3 256.8,815.4 260.0,815.4 262.4,815.4 266.6,815.5 268.9,815.5 271.5,815.5 274.9,815.6 277.3,815.6 281.2,815.6 282.8,815.6 286.0,815.6 289.3,815.6 291.6,815.7 295.4,815.7 297.7,815.8 301.1,815.7 304.0,815.8 307.2,815.8 310.2,815.8 313.4,815.9 315.7,815.9 318.7,815.9 321.7,815.9 325.3,816.0 327.3,816.0 330.5,816.0 333.6,816.0 336.2,816.1 339.6,816.0 342.1,816.1 344.6,816.1 347.8,816.1 351.7,816.1 354.5,816.2 357.4,816.2 360.0,816.2 362.5,816.2 366.2,816.2 368.7,816.3 371.6,816.3 374.6,816.3 378.9,816.3 381.8,816.3 385.2,816.4 387.2,816.4 390.7,816.4 394.0,816.5 397.1,816.5 399.4,816.5 403.0,816.5 405.5,816.9 409.2,817.3 411.9,817.0 415.6,817.3 418.9,817.9 422.0,817.8 424.3,818.3 427.0,818.4 430.9,818.6 433.0,818.5 435.8,819.3 439.1,818.9 442.0,819.4" fill="none" stroke="#5a5a5a" stroke-width="1.15" stroke-linejoin="round"/>
<polyline points="57.2,619.2 58.3,620.9 60.0,623.0 61.5,627.0 61.2,629.2 62.2,631.9 62.5,635.0 62.7,638.9 63.6,641.9 64.5,645.0 64.5,648.5 65.2,651.2 66.0,655.0 66.7,658.1 68.0,660.7 68.0,664.0 68.5,668.0 68.9,671.1 69.0,674.0 69.4,677.2 69.6,680.0 70.3,684.1 71.6,686.8 72.0,690.0 72.4,693.4 74.4,696.3 75.0,700.0 76.1,703.0 76.2,707.3 77.0,710.0 77.3,713.1 79.2,716.5 80.0,720.0 81.6,723.8 82.0,726.2 83.0,730.0 84.4,733.1 85.5,735.2 86.0,738.0 87.9,739.3 89.9,741.9 92.0,743.0 94.6,744.5 96.3,745.9 98.0,748.0 101.0,750.6 103.0,753.0 105.7,754.7 108.2,755.0 110.0,756.0 113.5,757.8 116.0,758.4 116.2,760.9 118.0,764.0 120.0,766.0 120.8,768.1 123.4,769.6 125.0,772.0 128.8,772.7 132.0,774.6 134.9,775.8 136.7,776.4 140.0,777.0 142.7,777.5 145.3,778.4 148.0,778.6 150.4,780.8 152.0,782.0 154.2,782.7 157.3,782.8 160.0,783.4 162.4,783.7 165.0,784.0 168.0,784.0 170.5,784.9 173.1,785.0 176.0,786.0 178.9,786.3 181.4,786.4 184.0,787.4 187.6,787.9 190.1,788.4 194.0,789.0 196.9,788.9 200.3,789.3 204.0,790.0 206.6,790.0 210.4,790.0 212.9,790.0 215.4,790.0 217.8,790.0 222.0,790.0 224.5,790.0 226.6,790.0 230.0,790.0 233.0,793.0 236.3,793.3 237.8,794.5 241.9,794.1 244.0,795.0 246.8,794.9 249.4,795.8 252.3,796.3 256.0,796.4 258.1,797.8 261.7,798.8 264.0,799.0 266.7,799.3 269.7,799.5 273.0,800.0 277.5,799.9 280.0,800.4 283.2,800.6 286.0,800.6 288.4,800.5 290.6,800.7 294.0,800.8 296.6,800.8 299.5,800.8 303.2,800.8 306.5,800.9 309.3,800.9 312.5,800.9 315.7,800.9 319.3,800.9 321.3,800.9 324.5,800.9 327.5,800.9 331.0,801.0 334.6,801.0 337.0,801.0 340.0,801.0 343.5,801.0 345.8,800.9 348.2,800.9 352.1,800.8 353.7,800.8 357.7,800.8 360.0,800.8 362.4,800.8 365.1,801.4 368.1,801.1 370.8,802.1 374.0,802.0 377.7,803.7 380.0,805.4 383.0,806.0 385.0,805.8 388.7,805.8 391.1,806.2 394.1,806.8 397.0,806.6 400.0,807.0 402.9,807.1 406.0,807.7 408.1,808.0 411.2,808.0 414.8,808.1 417.7,808.6 420.0,808.6 422.5,808.7 425.5,808.7 428.0,808.8 430.8,809.0 434.8,809.2 437.0,809.4 440.0,809.4 442.8,809.4 446.6,809.4 450.0,809.4" fill="none" stroke="#000" stroke-width="2.00" stroke-linejoin="round"/>
<polyline points="57.2,619.2 58.2,620.9 60.0,623.0 61.5,627.0 61.5,629.3 62.3,632.5 62.5,635.0 63.1,638.5 63.6,640.9 64.5,645.0 65.0,648.5 65.3,652.3 66.0,655.0 67.0,657.7 66.8,660.5 68.0,664.0 68.9,667.3 70.0,670.0 71.0,672.3 71.8,674.4 73.0,677.0 73.7,679.5 74.8,683.3 76.0,686.0 77.7,688.4 78.3,691.9 80.0,695.0 81.2,697.7 83.0,700.0 84.1,703.2 85.7,707.2 86.0,710.0 87.0,712.8 88.8,716.5 90.0,719.5 91.1,722.4 91.6,725.6 93.0,728.0 94.8,730.8 95.8,733.0 98.0,735.0 99.8,738.0 102.0,741.0 105.0,743.6 107.0,745.2 110.0,747.0 111.6,750.5 114.0,753.0 115.6,755.7 117.0,758.0 120.1,761.1 122.0,763.0 123.6,764.7 126.0,765.5 129.9,767.9 132.0,770.0 134.0,771.0 137.9,771.3 140.0,772.0 142.3,772.8 146.0,773.1 148.0,774.0 150.8,775.9 154.0,777.4 156.9,778.0 160.1,779.0 164.0,780.0 166.5,780.2 169.3,781.2 172.0,782.6 174.2,782.5 177.3,783.3 180.0,784.0 183.7,784.3 186.3,784.3 190.0,785.0 193.0,785.5 196.2,785.6 200.0,786.0 203.3,787.8 206.0,788.4 208.9,788.6 212.2,788.5 214.4,788.5 218.4,788.7 221.5,788.9 224.6,788.9 226.3,788.9 230.0,789.0 232.8,789.6 236.9,790.6 240.0,790.4 243.1,790.6 245.9,790.6 249.1,790.6 251.8,790.8 254.8,790.7 256.7,791.0 260.0,791.0 262.3,791.0 265.9,791.1 269.1,791.3 271.2,791.2 274.9,791.3 276.8,791.3 280.0,791.4 282.4,791.5 285.9,791.6 290.0,791.7 293.2,791.7 296.0,792.0 299.5,791.9 301.9,792.1 305.0,792.2 308.1,792.3 310.5,792.5 314.3,792.6 317.3,792.6 319.0,792.7 322.5,792.8 325.0,793.9 329.0,794.8 332.5,794.9 334.9,795.0 338.0,796.5 341.3,796.8 345.0,796.8 347.6,796.9 351.4,797.4 355.4,797.7 357.8,797.9 361.0,798.6 363.5,798.9 367.1,799.0 370.8,799.0 373.0,799.5 377.6,799.3 380.0,799.8 382.8,800.1 386.2,800.2 388.6,800.3 390.8,800.2 394.8,800.3 397.1,800.5 400.0,800.6 402.2,801.9 405.0,802.6 408.7,802.6 410.7,803.0 414.4,803.1 417.3,803.3 420.0,803.2 423.6,803.3 425.9,803.2 429.9,803.4 433.1,803.4 435.9,803.5 438.2,803.4 441.3,803.5 445.2,803.6 448.0,803.6 451.6,803.7 454.9,803.8 457.1,803.8 460.6,803.7 463.5,803.8 466.2,803.9 468.7,803.9 472.4,803.9 474.9,804.0 478.4,803.9 481.6,804.1 484.2,804.1 487.2,804.1 490.7,804.2 494.0,804.2" fill="none" stroke="#000" stroke-width="2.00" stroke-linejoin="round"/>
<line x1="346.5" y1="741.0" x2="327.1" y2="780.3" stroke="#000" stroke-width="2.6"/><polygon points="324.5,785.5 324.6,778.0 330.4,780.8" fill="#000"/>
<line x1="346.5" y1="759.0" x2="331.8" y2="792.7" stroke="#000" stroke-width="2.6"/><polygon points="329.5,798.0 329.3,790.5 335.2,793.0" fill="#000"/>
<line x1="350.8" y1="785.5" x2="340.3" y2="810.5" stroke="#000" stroke-width="2.6"/><polygon points="338.0,815.8 337.7,808.3 343.6,810.8" fill="#000"/>
<text font-family="'DejaVu Sans','Liberation Sans',sans-serif" font-weight="bold" font-size="9.8"><tspan x="352.43" y="742.5" textLength="8.87" lengthAdjust="spacingAndGlyphs">8</tspan><tspan x="361.50" y="742.5" textLength="6.00" lengthAdjust="spacingAndGlyphs">/</tspan><tspan x="367.42" y="742.5" textLength="8.99" lengthAdjust="spacingAndGlyphs">8</tspan> <tspan x="379.31" y="742.5" textLength="24.05" lengthAdjust="spacingAndGlyphs">HLA</tspan> <tspan x="407.04" y="742.5" textLength="50.23" lengthAdjust="spacingAndGlyphs">Matched</tspan> <tspan x="460.47" y="741.3" textLength="14.15" lengthAdjust="spacingAndGlyphs">(n</tspan> <tspan x="478.31" y="741.3" textLength="8.68" lengthAdjust="spacingAndGlyphs">=</tspan> <tspan x="491.67" y="741.3" textLength="19.58" lengthAdjust="spacingAndGlyphs">327</tspan><tspan x="514.31" y="741.3" textLength="6.78" lengthAdjust="spacingAndGlyphs">)</tspan></text>
<text font-family="'DejaVu Sans','Liberation Sans',sans-serif" font-weight="bold" font-size="9.8"><tspan x="352.30" y="763.2" textLength="9.28" lengthAdjust="spacingAndGlyphs">7</tspan><tspan x="361.50" y="763.2" textLength="6.00" lengthAdjust="spacingAndGlyphs">/</tspan><tspan x="367.42" y="763.2" textLength="8.99" lengthAdjust="spacingAndGlyphs">8</tspan> <tspan x="379.31" y="763.2" textLength="24.05" lengthAdjust="spacingAndGlyphs">HLA</tspan> <tspan x="407.04" y="763.2" textLength="50.23" lengthAdjust="spacingAndGlyphs">Matched</tspan> <tspan x="460.47" y="762.3" textLength="14.15" lengthAdjust="spacingAndGlyphs">(n</tspan> <tspan x="478.31" y="762.3" textLength="8.68" lengthAdjust="spacingAndGlyphs">=</tspan> <tspan x="491.23" y="762.3" textLength="19.94" lengthAdjust="spacingAndGlyphs">195</tspan><tspan x="514.31" y="762.3" textLength="6.78" lengthAdjust="spacingAndGlyphs">)</tspan></text>
<text font-family="'DejaVu Sans','Liberation Sans',sans-serif" font-weight="bold" font-size="9.8"><tspan x="352.41" y="781.6" textLength="8.76" lengthAdjust="spacingAndGlyphs">6</tspan><tspan x="361.50" y="781.6" textLength="6.00" lengthAdjust="spacingAndGlyphs">/</tspan><tspan x="367.42" y="781.6" textLength="8.99" lengthAdjust="spacingAndGlyphs">8</tspan> <tspan x="379.31" y="781.6" textLength="24.05" lengthAdjust="spacingAndGlyphs">HLA</tspan> <tspan x="407.04" y="781.6" textLength="50.23" lengthAdjust="spacingAndGlyphs">Matched</tspan> <tspan x="460.47" y="780.6" textLength="14.15" lengthAdjust="spacingAndGlyphs">(n</tspan> <tspan x="478.31" y="780.6" textLength="8.68" lengthAdjust="spacingAndGlyphs">=</tspan> <tspan x="491.22" y="780.6" textLength="20.05" lengthAdjust="spacingAndGlyphs">123</tspan><tspan x="514.31" y="780.6" textLength="6.78" lengthAdjust="spacingAndGlyphs">)</tspan></text>
<text font-family="'DejaVu Sans','Liberation Sans',sans-serif" font-weight="bold" font-size="14.2"><tspan x="359.94" y="684.7" textLength="73.50" lengthAdjust="spacingAndGlyphs">Log-rank</tspan> <tspan x="444.51" y="684.7" font-style="italic" textLength="12.71" lengthAdjust="spacingAndGlyphs">P</tspan> <tspan x="463.53" y="684.7" textLength="14.96" lengthAdjust="spacingAndGlyphs">=</tspan> <tspan x="480.84" y="684.7" textLength="6.51" lengthAdjust="spacingAndGlyphs">.</tspan><tspan x="487.36" y="684.7" textLength="21.69" lengthAdjust="spacingAndGlyphs">02</tspan></text>
</g>
</svg>
</body></html>
